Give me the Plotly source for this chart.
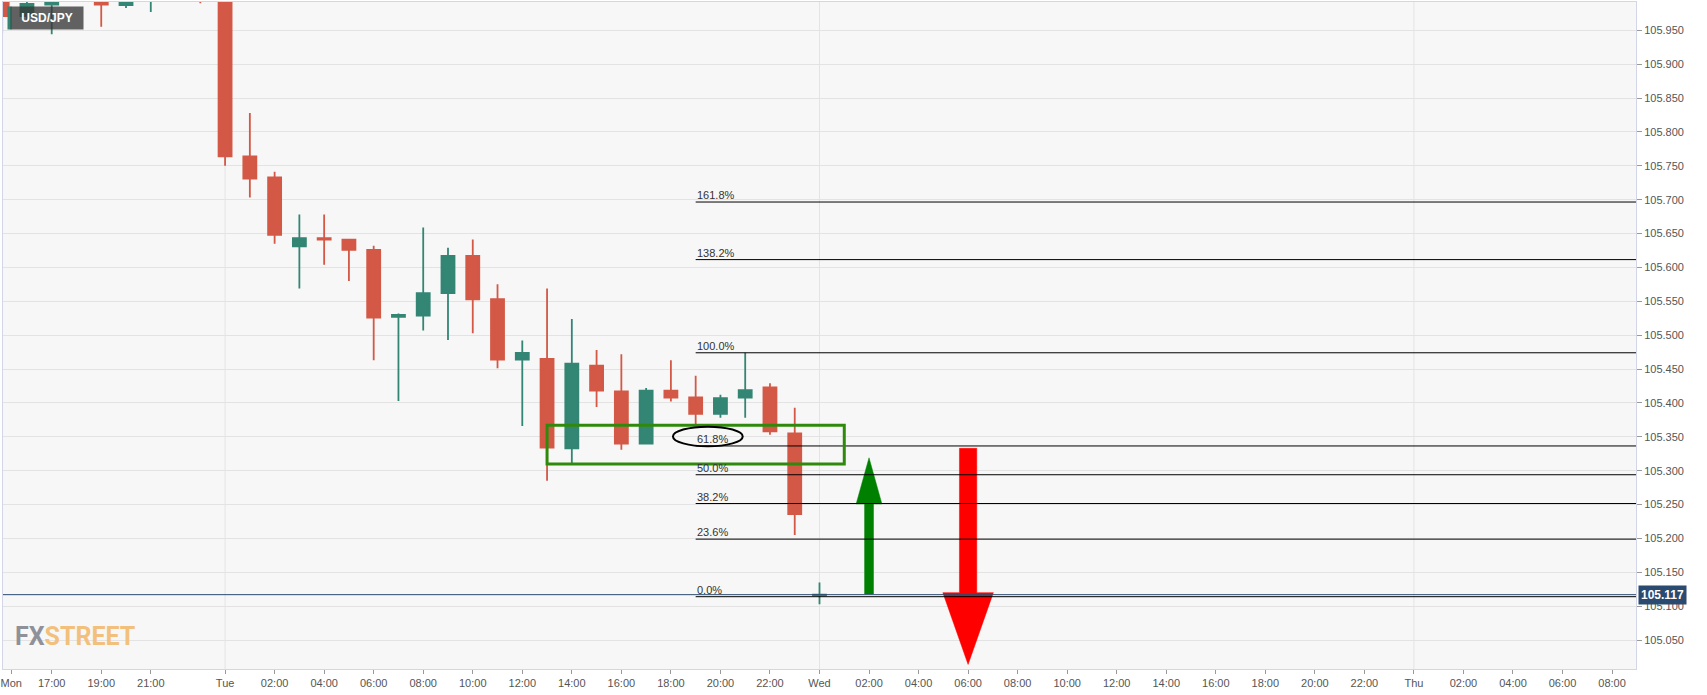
import pandas as pd
import plotly.graph_objects as go

# ---------------- data ----------------
candle_start = "2020-10-26 15:00"   # Mon 15:00, hourly candles
opens = [106.000, 105.971, 105.988, 106.010, 106.005, 105.987, 105.998, 106.010, 106.010,
         106.000, 105.764, 105.733, 105.631, 105.643, 105.641, 105.626, 105.527, 105.529,
         105.562, 105.617, 105.553, 105.464, 105.465, 105.333, 105.455, 105.417, 105.340,
         105.418, 105.408, 105.384, 105.408, 105.423, 105.355,
         105.116]
highs = [106.010, 106.000, 106.020, 106.025, 106.010, 106.010, 106.020, 106.020, 106.015,
         106.010, 105.828, 105.741, 105.678, 105.678, 105.641, 105.632, 105.532, 105.659,
         105.629, 105.641, 105.575, 105.492, 105.569, 105.524, 105.478, 105.472, 105.422,
         105.463, 105.440, 105.412, 105.474, 105.429, 105.393,
         105.135]
lows = [105.946, 105.965, 105.944, 105.998, 105.955, 105.983, 105.977, 105.998, 105.990,
        105.750, 105.703, 105.635, 105.569, 105.604, 105.580, 105.463, 105.403, 105.507,
        105.493, 105.503, 105.451, 105.366, 105.285, 105.309, 105.394, 105.331, 105.340,
        105.402, 105.368, 105.378, 105.378, 105.353, 105.205,
        105.103]
closes = [105.971, 105.989, 106.010, 106.005, 105.988, 106.000, 106.010, 106.005, 106.000,
          105.764, 105.731, 105.648, 105.643, 105.641, 105.626, 105.526, 105.530, 105.562,
          105.617, 105.553, 105.464, 105.474, 105.334, 105.458, 105.418, 105.340, 105.418,
          105.408, 105.384, 105.407, 105.419, 105.358, 105.236,
          105.117]
times = pd.date_range(candle_start, periods=len(opens), freq="h")

last_price = 105.117
symbol = "USD/JPY"

# Fibonacci levels
fib_low = 105.114
fib_high = 105.474
fib_ratios = [0.0, 0.236, 0.382, 0.5, 0.618, 1.0, 1.382, 1.618]
fib_labels = ["0.0%", "23.6%", "38.2%", "50.0%", "61.8%", "100.0%", "138.2%", "161.8%"]
fib_start = "2020-10-27 19:00"

# drawings
zone_x = ["2020-10-27 13:00", "2020-10-28 01:00"]
zone_y = [105.310, 105.367]
ellipse_x = ["2020-10-27 18:05", "2020-10-27 20:54"]
ellipse_y = [105.336, 105.365]
up_arrow_x = "2020-10-28 02:00"
up_arrow_y = [105.118, 105.251, 105.319]     # tail, head base, tip
down_arrow_x = "2020-10-28 06:00"
down_arrow_y = [105.333, 105.120, 105.014]   # tail, head base, tip

x_range = ["2020-10-26 15:02", "2020-10-29 08:58"]
y_range = [105.0073, 105.9917]

tick_vals = ["2020-10-26 15:22", "2020-10-26 17:00", "2020-10-26 19:00", "2020-10-26 21:00"]
tick_text = ["Mon", "17:00", "19:00", "21:00"]
for day, name in [("2020-10-27", "Tue"), ("2020-10-28", "Wed")]:
    tick_vals.append(day + " 00:00"); tick_text.append(name)
    for h in range(2, 24, 2):
        tick_vals.append(f"{day} {h:02d}:00"); tick_text.append(f"{h:02d}:00")
tick_vals.append("2020-10-29 00:00"); tick_text.append("Thu")
for h in range(2, 10, 2):
    tick_vals.append(f"2020-10-29 {h:02d}:00"); tick_text.append(f"{h:02d}:00")
day_lines = ["2020-10-27 00:00", "2020-10-28 00:00", "2020-10-29 00:00"]

# ---------------- figure ----------------
UP = "#338574"
DOWN = "#d35846"
FONT = "Liberation Sans, Arial, sans-serif"

fig = go.Figure()
fig.add_trace(go.Candlestick(
    x=times, open=opens, high=highs, low=lows, close=closes,
    increasing=dict(line=dict(color=UP, width=1.8), fillcolor=UP),
    decreasing=dict(line=dict(color=DOWN, width=1.8), fillcolor=DOWN),
    whiskerwidth=0, showlegend=False, hoverinfo="skip",
))


def shift(t, hours):
    return pd.Timestamp(t) + pd.Timedelta(hours=hours)


# arrows as filled polygons
def arrow(xc, ys, shaft_hw, head_hw, color):
    tail, base, tip = ys
    xs = [shift(xc, -shaft_hw), shift(xc, shaft_hw), shift(xc, shaft_hw), shift(xc, head_hw),
          shift(xc, 0), shift(xc, -head_hw), shift(xc, -shaft_hw), shift(xc, -shaft_hw)]
    yv = [tail, tail, base, base, tip, base, base, tail]
    fig.add_trace(go.Scatter(x=xs, y=yv, mode="lines", fill="toself", fillcolor=color,
                             line=dict(color=color, width=0.5), showlegend=False,
                             hoverinfo="skip"))


arrow(up_arrow_x, up_arrow_y, 0.18, 0.52, "#008000")
arrow(down_arrow_x, down_arrow_y, 0.35, 1.02, "#ff0000")

shapes = []
for d in day_lines:
    shapes.append(dict(type="line", xref="x", yref="paper", x0=d, x1=d, y0=0, y1=1,
                       line=dict(color="#e4e4e4", width=1), layer="below"))
# current price line
shapes.append(dict(type="line", xref="paper", yref="y", x0=0, x1=1, y0=last_price,
                   y1=last_price, line=dict(color="#2b4a6f", width=1)))
annotations = []
for r, lab in zip(fib_ratios, fib_labels):
    lvl = fib_low + r * (fib_high - fib_low)
    shapes.append(dict(type="line", xref="x", yref="y", x0=fib_start, x1=x_range[1],
                       y0=lvl, y1=lvl, line=dict(color="#000000", width=1)))
    annotations.append(dict(x=fib_start, y=lvl, xref="x", yref="y", text=lab,
                            showarrow=False, xanchor="left", yanchor="bottom",
                            xshift=-1, yshift=-1,
                            font=dict(family=FONT, size=11, color="#333333")))
shapes.append(dict(type="rect", xref="x", yref="y", x0=zone_x[0], x1=zone_x[1],
                   y0=zone_y[0], y1=zone_y[1], line=dict(color="#2f8a0c", width=3)))
shapes.append(dict(type="circle", xref="x", yref="y", x0=ellipse_x[0], x1=ellipse_x[1],
                   y0=ellipse_y[0], y1=ellipse_y[1], line=dict(color="#000000", width=2)))

# price label on axis
annotations.append(dict(x=1, y=last_price, xref="paper", yref="y", text="<b>105.117</b>",
                        showarrow=False, xanchor="left", yanchor="middle", xshift=2,
                        bgcolor="#2b4a6f", borderpad=2,
                        font=dict(family=FONT, size=12, color="#ffffff")))
# symbol label
annotations.append(dict(x=0, y=1, xref="paper", yref="paper", text=" ",
                        showarrow=False, xanchor="left", yanchor="top", xshift=4, yshift=-4,
                        width=3, height=22, borderpad=0, bgcolor=UP,
                        font=dict(size=10)))
annotations.append(dict(x=0, y=1, xref="paper", yref="paper", text="<b>" + symbol + "</b>",
                        showarrow=False, xanchor="left", yanchor="top", xshift=7, yshift=-4,
                        width=68, height=18, borderpad=2, bgcolor="rgba(55,55,55,0.78)",
                        font=dict(family=FONT, size=12, color="#ffffff")))
# logo
annotations.append(dict(x=0, y=0, xref="paper", yref="paper",
                        text="<b><span style='color:#8f919a'>FX</span>"
                             "<span style='color:#f3c07c'>STREET</span></b>",
                        showarrow=False, xanchor="left", yanchor="bottom", xshift=10, yshift=16,
                        font=dict(family="Roboto, sans-serif", size=25)))

fig.update_layout(
    width=1707, height=695,
    margin=dict(l=1, r=71, t=1, b=26),
    paper_bgcolor="#ffffff", plot_bgcolor="#f7f7f7",
    boxgap=0.25,
    shapes=shapes, annotations=annotations,
    xaxis=dict(type="date", range=x_range, rangeslider=dict(visible=False),
               tickmode="array", tickvals=tick_vals, ticktext=tick_text,
               ticklabeloverflow="allow",
               showgrid=False, zeroline=False,
               showline=True, mirror=True, linecolor="#d3d6e8", linewidth=1,
               ticks="outside", ticklen=4, tickcolor="#999999",
               tickfont=dict(family=FONT, size=11, color="#555555")),
    yaxis=dict(side="right", range=y_range, dtick=0.05, tick0=105.0, tickformat=".3f",
               showgrid=True, gridcolor="#e3e3e3", gridwidth=1, zeroline=False,
               showline=True, mirror=True, linecolor="#d3d6e8", linewidth=1,
               ticks="outside", ticklen=5, tickcolor="#999999",
               tickfont=dict(family=FONT, size=11, color="#555555")),
    hovermode=False,
)

fig.write_html("out.html",
               config={"displayModeBar": False},
               post_script="document.body.style.margin='0';"
                           "document.body.style.overflow='hidden';")
